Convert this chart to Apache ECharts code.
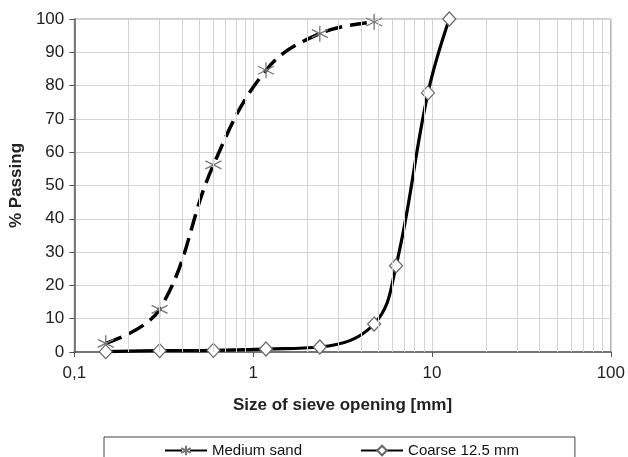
<!DOCTYPE html>
<html>
<head>
<meta charset="utf-8">
<script src="https://cdn.jsdelivr.net/npm/echarts@6/dist/echarts.min.js"></script>
<style>html,body{margin:0;padding:0;background:#fff;}#c{width:628px;height:457px;}</style>
</head>
<body>
<div id="c"></div>
<script>
var sandSizes = [0.15, 0.3, 0.6, 1.18, 2.36, 4.75];
var sandPassing = [2.6, 12.8, 56.2, 84.6, 95.6, 99.1];
var coarseSizes = [0.15, 0.3, 0.6, 1.18, 2.36, 4.75, 6.3, 9.5, 12.5];
var coarsePassing = [0.1, 0.4, 0.5, 0.9, 1.5, 8.4, 25.9, 77.8, 100];
var minorGridX = [0.2,0.3,0.4,0.5,0.6,0.7,0.8,0.9,2,3,4,5,6,7,8,9,20,30,40,50,60,70,80,90];
var seriesNames = ['Medium sand', 'Coarse 12.5 mm'];

function pairs(xs, ys){ return xs.map(function(x,i){ return [x, ys[i]]; }); }

var FONT = '"Liberation Sans", Arial, sans-serif';
var starPath = 'path://M0,-10L0,10M-8.66,-5L8.66,5M-8.66,5L8.66,-5';

var chart = echarts.init(document.getElementById('c'));
chart.setOption({
  animation: false,
  backgroundColor: '#fff',
  grid: { left: 74, right: 16, top: 19, bottom: 105, show: true, borderColor: '#9a9a9a', borderWidth: 1 },
  xAxis: {
    type: 'log', logBase: 10, min: 0.1, max: 100,
    name: 'Size of sieve opening [mm]', nameLocation: 'middle', nameGap: 45,
    nameTextStyle: { fontFamily: FONT, fontSize: 17, fontWeight: 'bold', color: '#222' },
    axisLine: { show: true, lineStyle: { color: '#555', width: 1.5 } },
    axisTick: { show: true, length: 5, lineStyle: { color: '#555' } },
    axisLabel: { fontFamily: FONT, fontSize: 17, color: '#222', margin: 13,
      formatter: function(v){ return String(+(+v).toPrecision(6)).replace('.', ','); } },
    splitLine: { show: true, lineStyle: { color: '#d4d4d4', width: 1 } },
    minorTick: { show: false }, minorSplitLine: { show: false }
  },
  yAxis: {
    type: 'value', min: 0, max: 100, interval: 10,
    name: '% Passing', nameLocation: 'middle', nameGap: 43, nameRotate: 90,
    nameTextStyle: { fontFamily: FONT, fontSize: 17, fontWeight: 'bold', color: '#222' },
    axisLine: { show: true, lineStyle: { color: '#555', width: 1.5 } },
    axisTick: { show: true, length: 5, lineStyle: { color: '#555' } },
    axisLabel: { fontFamily: FONT, fontSize: 17, color: '#222', margin: 10 },
    splitLine: { show: true, lineStyle: { color: '#d4d4d4', width: 1 } }
  },
  legend: {
    data: seriesNames,
    left: 104, top: 437,
    orient: 'horizontal',
    itemWidth: 42, itemHeight: 12, itemGap: 58,
    padding: [6, 56, 20, 60],
    borderColor: '#444', borderWidth: 1,
    textStyle: { fontFamily: FONT, fontSize: 15, color: '#111' }
  },
  series: [
    {
      name: 'grid-minor', type: 'line', data: [], z: 1, silent: true,
      markLine: {
        silent: true, symbol: 'none', animation: false,
        label: { show: false },
        lineStyle: { color: '#d4d4d4', type: 'solid', width: 1 },
        data: minorGridX.map(function(v){ return { xAxis: v }; })
      }
    },
    {
      name: seriesNames[0], type: 'line', z: 3,
      data: pairs(sandSizes, sandPassing),
      smooth: 0.4,
      symbol: starPath, symbolSize: 16,
      lineStyle: { color: '#000', width: 3.5, type: [17, 8] },
      itemStyle: { color: 'none', borderColor: '#777', borderWidth: 1.3 }
    },
    {
      name: seriesNames[1], type: 'line', z: 4,
      data: pairs(coarseSizes, coarsePassing),
      smooth: 0.4,
      symbol: 'diamond', symbolSize: [13, 14],
      lineStyle: { color: '#000', width: 3.2 },
      itemStyle: { color: '#fff', borderColor: '#666', borderWidth: 1.2 }
    }
  ]
});
</script>
</body>
</html>
